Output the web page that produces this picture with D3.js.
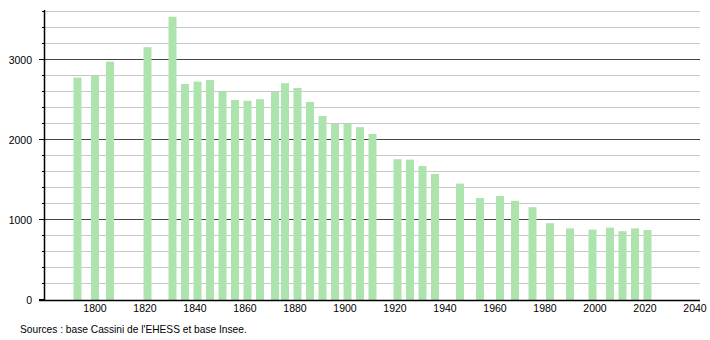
<!DOCTYPE html>
<html>
<head>
<meta charset="utf-8">
<script src="https://cdn.jsdelivr.net/npm/d3@7"></script>
<style>
    body { margin: 0; background: #fff; }
    svg { display: block; font-family: "Liberation Sans", Arial, sans-serif; }
</style>
</head>
<body>
<svg id="chart" width="710" height="340"></svg>
<script>
var years = [1793, 1800, 1806, 1821, 1831, 1836, 1841, 1846, 1851, 1856, 1861, 1866, 1872, 1876,
    1881, 1886, 1891, 1896, 1901, 1906, 1911, 1921, 1926, 1931, 1936, 1946, 1954, 1962, 1968,
    1975, 1982, 1990, 1999, 2006, 2011, 2016, 2021];
var population = [2780, 2800, 2980, 3160, 3540, 2700, 2730, 2750, 2600, 2500, 2490, 2510, 2600, 2710,
    2650, 2475, 2300, 2200, 2200, 2160, 2075, 1760, 1755, 1675, 1575, 1455, 1275, 1300, 1240,
    1160, 960, 895, 880, 905, 860, 895, 875];
var yTicks = [0, 1000, 2000, 3000];
var yMinorTicks = [200, 400, 600, 800, 1200, 1400, 1600, 1800, 2200, 2400, 2600, 2800, 3200, 3400, 3600];
var xTicks = [1800, 1820, 1840, 1860, 1880, 1900, 1920, 1940, 1960, 1980, 2000, 2020, 2040];
var sourceText = "Sources : base Cassini de l'EHESS et base Insee.";

var CONFIG = {
    left: 44,
    right: 700,
    top: 10,
    bottom: 300,
    barWidth: 8,
    barColor: '#ade3ad'
};

var svg = d3.select('#chart');

var x = d3.scaleLinear().domain([1780, 2040]).range([45, 695]);
var y = d3.scaleLinear().domain([0, 3625]).range([CONFIG.bottom, CONFIG.top]);

var snap = function (v) {
    return Math.round(v) - 0.5;
};

// light minor grid
svg.append('g')
    .selectAll('line')
    .data(yMinorTicks)
    .enter()
    .append('line')
    .attr('x1', CONFIG.left)
    .attr('x2', CONFIG.right)
    .attr('y1', function (d) { return snap(y(d)); })
    .attr('y2', function (d) { return snap(y(d)); })
    .style('stroke', '#c8c8c8')
    .style('stroke-width', 1);

// dark major grid
svg.append('g')
    .selectAll('line')
    .data(yTicks.filter(function (d) { return d > 0; }))
    .enter()
    .append('line')
    .attr('x1', CONFIG.left)
    .attr('x2', CONFIG.right)
    .attr('y1', function (d) { return snap(y(d)); })
    .attr('y2', function (d) { return snap(y(d)); })
    .style('stroke', '#444')
    .style('stroke-width', 1);

// bars
svg.append('g')
    .selectAll('rect')
    .data(years)
    .enter()
    .append('rect')
    .attr('x', function (d) { return x(d) - CONFIG.barWidth / 2; })
    .attr('width', CONFIG.barWidth)
    .attr('y', function (d, i) { return y(population[i]); })
    .attr('height', function (d, i) { return y(0) - y(population[i]); })
    .style('fill', CONFIG.barColor);

// y axis
var yAxis = svg.append('g');
yAxis.append('line')
    .attr('x1', CONFIG.left + 0.5).attr('x2', CONFIG.left + 0.5)
    .attr('y1', CONFIG.top).attr('y2', CONFIG.bottom)
    .style('stroke', '#000').style('stroke-width', 1.5);
yAxis.selectAll('.minor')
    .data(yMinorTicks)
    .enter()
    .append('line')
    .attr('x1', CONFIG.left - 2).attr('x2', CONFIG.left)
    .attr('y1', function (d) { return snap(y(d)); })
    .attr('y2', function (d) { return snap(y(d)); })
    .style('stroke', '#000');
yAxis.selectAll('.major')
    .data(yTicks)
    .enter()
    .append('line')
    .attr('x1', CONFIG.left - 5).attr('x2', CONFIG.left)
    .attr('y1', function (d) { return snap(y(d)); })
    .attr('y2', function (d) { return snap(y(d)); })
    .style('stroke', '#000');
yAxis.selectAll('text')
    .data(yTicks)
    .enter()
    .append('text')
    .attr('x', 32)
    .attr('y', function (d) { return y(d); })
    .attr('dy', '0.35em')
    .style('text-anchor', 'end')
    .style('font-size', '10.5px')
    .text(function (d) { return d; });

// x axis
var xAxis = svg.append('g');
xAxis.append('line')
    .attr('x1', CONFIG.left - 5).attr('x2', CONFIG.right)
    .attr('y1', CONFIG.bottom + 0.5).attr('y2', CONFIG.bottom + 0.5)
    .style('stroke', '#000').style('stroke-width', 1.5);
xAxis.selectAll('text')
    .data(xTicks)
    .enter()
    .append('text')
    .attr('x', function (d) { return x(d); })
    .attr('y', 312)
    .style('text-anchor', 'middle')
    .style('font-size', '10.5px')
    .text(function (d) { return d; });

svg.append('text')
    .attr('x', 20)
    .attr('y', 333)
    .style('font-size', '10.2px')
    .text(sourceText);
</script>
</body>
</html>
